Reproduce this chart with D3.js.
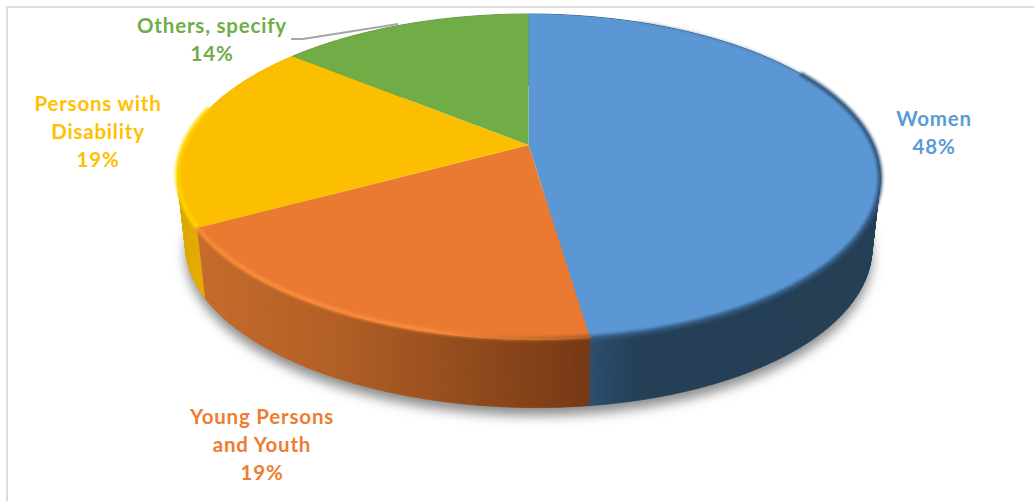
<!DOCTYPE html>
<html>
<head>
<meta charset="utf-8">
<script src="https://cdn.jsdelivr.net/npm/d3@7"></script>
<style>
  html, body { margin: 0; padding: 0; background: #fff; }
  svg { display: block; }
  text { font-family: Lato, "Open Sans", sans-serif; font-weight: 700; font-size: 20.5px; letter-spacing: 0.8px; text-anchor: middle; }
</style>
</head>
<body>
<svg id="chart" width="1034" height="501"></svg>
<script>
const categories = ["Women", "Young Persons and Youth", "Persons with Disability", "Others, specify"];
const shares = [48, 19, 19, 14];
const topColors = ["#5b97d5", "#ea7a32", "#fbbf00", "#70ad47"];
const labelColors = ["#5b9bd5", "#ed7d31", "#ffc000", "#70ad47"];
const labelLines = [
  ["Women", "48%"],
  ["Young Persons", "and Youth", "19%"],
  ["Persons with", "Disability", "19%"],
  ["Others, specify", "14%"]
];
const labelAnchors = [[934, 126], [262, 424], [98, 111], [212, 33]];
const lineHeight = 28;

const svg = d3.select("#chart");
const defs = svg.append("defs");

// Tilted-disc projection: the near edge is drawn larger than the far edge,
// and the near half leans slightly to the right.
const tilt = 0.196, apexX = 528.5, apexY = 145, spanX = 344.5, spanY = 156.7;
const depth = 70, baseShrinkX = 0.977, baseShrinkY = 0.988, nearLean = 6.5;

function project(angle, level) {
  const u = Math.sin(angle), v = -Math.cos(angle), w = 1 - tilt * v;
  const sx = level ? baseShrinkX : 1, sy = level ? baseShrinkY : 1;
  const lean = v > 0 ? nearLean * v * v / w : 0;
  return [apexX + sx * spanX * u / w + lean, apexY + level * depth + sy * spanY * v / w];
}
function rimPoints(a0, a1, level) {
  const n = Math.max(2, Math.ceil(Math.abs(a1 - a0) / 0.01));
  return d3.range(n + 1).map(i => project(a0 + (a1 - a0) * i / n, level));
}
const path = d3.line();
const rad = d3.scaleLinear().domain([0, 360]).range([0, Math.PI * 2]);

const arcs = d3.pie().sort(null)(shares);

// Filters
const soft = defs.append("filter").attr("id", "soft")
  .attr("x", "-10%").attr("y", "-10%").attr("width", "120%").attr("height", "130%");
soft.append("feGaussianBlur").attr("stdDeviation", 6);
const edge = defs.append("filter").attr("id", "edge")
  .attr("filterUnits", "userSpaceOnUse")
  .attr("x", 0).attr("y", 0).attr("width", 1034).attr("height", 501);
edge.append("feGaussianBlur").attr("stdDeviation", 1.7);

// Wall shading runs left to right across each slice
function addGradient(id, x1, x2, stops) {
  const g = defs.append("linearGradient").attr("id", id)
    .attr("gradientUnits", "userSpaceOnUse")
    .attr("x1", x1).attr("x2", x2).attr("y1", 0).attr("y2", 0);
  stops.forEach(s => g.append("stop").attr("offset", s[0]).attr("stop-color", s[1]));
}
addGradient("wall0", 590, 880, [[0, "#2d4e6e"], [0.16, "#243f56"], [1, "#243e54"]]);
addGradient("wall1", 200, 590, [[0, "#c66b2a"], [0.35, "#b25f25"], [1, "#753814"]]);
addGradient("wall2", 180, 206, [[0, "#dba500"], [1, "#e8ae00"]]);
addGradient("wall3", 290, 528, [[0, "#5a8a38"], [1, "#5a8a38"]]);
addGradient("rim1", 200, 590, [[0, "#fb8c3a"], [0.6, "#fb8c3a"], [1, "#a85a22"]]);

// Frame
svg.append("rect").attr("x", 7).attr("y", 7).attr("width", 1040).attr("height", 520)
  .attr("fill", "#fff").attr("stroke", "#dcdcdc").attr("stroke-width", 2);

// Soft shadow under the disc
svg.append("path")
  .attr("d", path(rimPoints(rad(80), rad(280), 1).map(p => [p[0], p[1] + 8])) + "Z")
  .attr("fill", "#8c8c8c").attr("filter", "url(#soft)");

// Walls, built from thin quads so the silhouette joins the two rims at the sides
const walls = svg.append("g");
arcs.forEach((d, i) => {
  const top = rimPoints(d.startAngle, d.endAngle, 0);
  const base = rimPoints(d.startAngle, d.endAngle, 1);
  const fill = `url(#wall${i})`;
  walls.append("g").attr("fill", fill).attr("stroke", fill).attr("stroke-width", 0.8)
    .selectAll("path").data(d3.pairs(d3.range(top.length))).join("path")
    .attr("d", ([a, b]) => path([top[a], top[b], base[b], base[a]]) + "Z");
});

// Top faces
const sliceOutline = d => path([[apexX, apexY]].concat(rimPoints(d.startAngle, d.endAngle, 0))) + "Z";
svg.append("g").selectAll("path").data(arcs).join("path")
  .attr("fill", (d, i) => topColors[i])
  .attr("d", sliceOutline);

// Bevel strokes along the disc edge
const bevels = [
  { from: 22, to: 60, color: "#41719f", width: 1.4, dy: 0, opacity: 0.7 },
  { from: 60, to: arcs[0].endAngle * 180 / Math.PI, color: "#33597f", width: 4.5, dy: 0, opacity: 1 },
  { from: arcs[1].startAngle * 180 / Math.PI, to: arcs[1].endAngle * 180 / Math.PI, color: "url(#rim1)", width: 4, dy: -1.5, opacity: 1 },
  { from: arcs[2].startAngle * 180 / Math.PI, to: 284, color: "#ffd800", width: 4, dy: -1, opacity: 1 }
];
svg.append("g").selectAll("path").data(bevels).join("path")
  .attr("fill", "none")
  .attr("stroke", d => d.color)
  .attr("stroke-width", d => d.width)
  .attr("stroke-opacity", d => d.opacity)
  .attr("filter", "url(#edge)")
  .attr("d", d => path(rimPoints(rad(d.from), rad(d.to), 0).map(p => [p[0], p[1] + d.dy])));

// Leader for the smallest slice
svg.append("path")
  .attr("d", path([[291, 39], [303, 39], [398, 24]]))
  .attr("fill", "none").attr("stroke", "#a6a6a6").attr("stroke-width", 1.8);

// Labels
const labels = svg.append("g").selectAll("text").data(labelLines).join("text")
  .attr("fill", (d, i) => labelColors[i])
  .attr("transform", (d, i) => `translate(${labelAnchors[i][0]},${labelAnchors[i][1]})`);
labels.selectAll("tspan").data(d => d).join("tspan")
  .attr("x", 0)
  .attr("dy", (d, i) => i ? lineHeight : 0)
  .text(d => d);
</script>
</body>
</html>
